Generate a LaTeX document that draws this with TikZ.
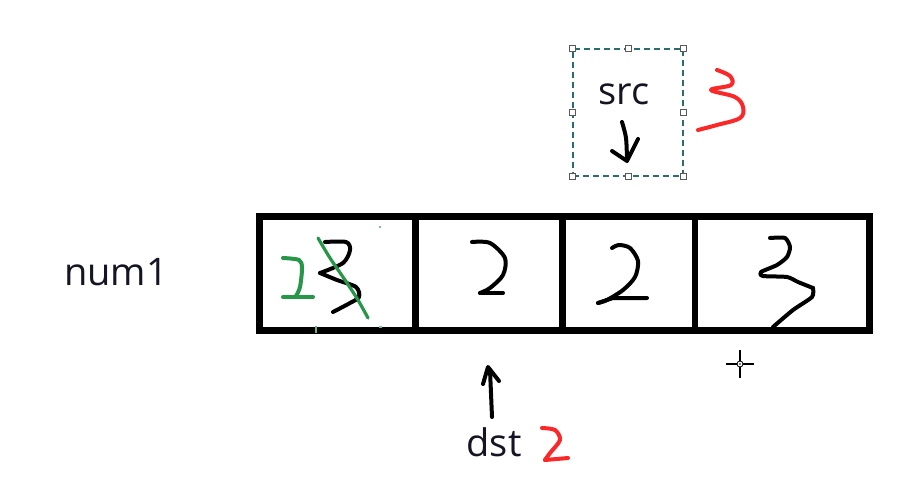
\documentclass[tikz,border=0pt]{standalone}
\usepackage{fontspec}
\setmainfont{Open Sans}
\definecolor{inkgreen}{RGB}{38,150,72}
\definecolor{inkred}{RGB}{250,40,40}
\definecolor{seldash}{RGB}{40,110,110}
\definecolor{txt}{RGB}{20,20,35}
\begin{document}
\begin{tikzpicture}[x=1pt,y=-1pt,
  cell/.style={draw=black,line width=6.5pt,minimum height=114pt,inner sep=0pt,outer sep=0pt},
  lbl/.style={font=\fontsize{38}{42}\selectfont,text=txt,inner sep=0pt},
  ink/.style={line width=4pt,line cap=round,line join=round},
  handle/.style={draw=black!65,fill=white,line width=0.9pt,minimum size=6pt,inner sep=0pt},
  selbox/.style={draw=seldash,dash pattern=on 6pt off 4pt,line width=1.1pt,minimum width=110pt,minimum height=127pt,inner sep=0pt}]
\useasboundingbox (0,0) rectangle (901,493);
\fill[white] (0,0) rectangle (901,493);
% cells
\node[cell,minimum width=156pt] (c1) at (337.5,273.5) {};
\node[cell,minimum width=147pt] (c2) at (489,273.5) {};
\node[cell,minimum width=132.5pt] (c3) at (628.75,273.5) {};
\node[cell,minimum width=174.5pt] (c4) at (782.25,273.5) {};
% label
\node[lbl] (num) at (116,272) {num1};
% src selection box
\node[selbox] (sel) at (628,112.5) {};
\foreach \a in {north west,north,north east,west,east,south west,south,south east}
  \node[handle] at (sel.\a) {};
\node[lbl] (src) at (624,94) {src};
\node[lbl] (dst) at (494,442) {dst};
% src hand arrow
\draw[ink] plot[smooth] coordinates {(622,122) (626,138) (627,160)};
\draw[ink] (612,151) -- (627,161) -- (638,139);
% dst hand arrow
\draw[ink] (492,417) -- (490,370);
\draw[ink] (483,384) -- (488,367) -- (499,381);
% red 3
\draw[ink,inkred] plot[smooth,tension=0.6] coordinates {(717,70) (730,76) (731,85) (711,90) (735,97) (743,107) (740,118) (717,125) (698,130)};
% red 2
\draw[ink,inkred] plot[smooth,tension=0.5] coordinates {(542,428) (555,430) (560,440) (550,453) (545,460)};
\draw[ink,inkred] (545,460) -- (568,458);
% cell 1: black 3
\draw[ink] plot[smooth,tension=0.5] coordinates {(325,242) (346,242) (350,250) (343,263) (320,273)};
\draw[ink] plot[smooth,tension=0.5] coordinates {(320,273) (337,280) (356,287) (359,297) (350,303) (333,312)};
% green 2 and strike
\draw[ink,inkgreen] plot[smooth,tension=0.5] coordinates {(283,258) (299,260) (302,268) (300,287) (296,296)};
\draw[ink,inkgreen] (283,297) -- (313,297);
\draw[line width=3.2pt,line cap=round,inkgreen] plot[smooth] coordinates {(318,238) (330,258) (345,280) (358,300) (368,318)};
\draw[line width=1.5pt,inkgreen!70] (316,326) -- (316,333);
\draw[line width=1.5pt,inkgreen!60] (379,327) -- (382,327);
\draw[line width=1.5pt,inkgreen!60] (379,227) -- (381,227);
% cell 2: 2
\draw[ink] plot[smooth,tension=0.5] coordinates {(472,242) (490,243) (505,258) (503,275) (490,288) (480,293)};
\draw[ink] (480,293) -- (503,293);
% cell 3: 2
\draw[ink] plot[smooth,tension=0.5] coordinates {(612,248) (619,245) (630,248) (638,261) (635,277) (623,290) (607,300) (598,303)};
\draw[ink] (598,303) -- (613,298) -- (647,298);
% cell 4: 3
\draw[ink] plot[smooth,tension=0.4] coordinates {(770,238) (785,238) (790,247) (787,257) (777,265) (761,272) (763,276) (787,277) (798,282) (813,288)};
\draw[ink] plot[smooth,tension=0.4] coordinates {(813,288) (812,297) (793,310) (773,327)};
% cursor
\draw[line width=1.2pt] (726,364) -- (754,364) (740,350) -- (740,378);
\node[draw=black,fill=white,circle,minimum size=6pt,inner sep=0pt,line width=0.8pt] (cur) at (740,364) {};
\fill (cur.center) circle (0.8pt);
\end{tikzpicture}
\end{document}
